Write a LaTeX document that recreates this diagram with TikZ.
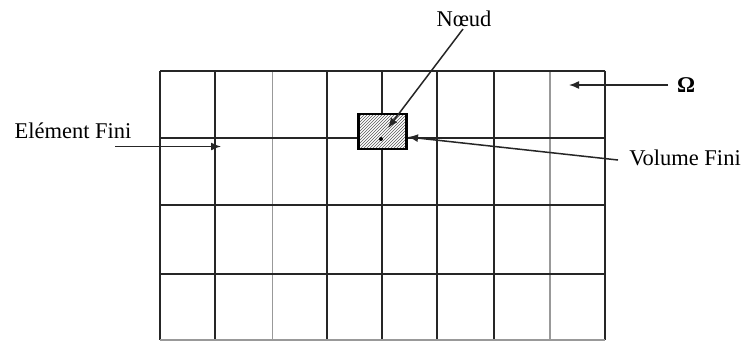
\documentclass[tikz,border=0pt]{standalone}
\usepackage{fontspec}
\setmainfont{Liberation Serif}
\usetikzlibrary{patterns,arrows.meta}
\begin{document}
\begin{tikzpicture}[x=1pt,y=-1pt,
  darkline/.style={line width=2pt,black!85},
  lightline/.style={line width=1.3pt,black!40},
  arr/.style={line width=1.5pt,black!85,-{Latex[length=10pt,width=8pt]}},
  lbl/.style={inner sep=0pt,font=\fontsize{22.5}{26}\selectfont},
  cellbox/.style={draw=black,line width=2.6pt,preaction={fill=white},pattern=north east lines,pattern color=black!65,minimum width=48pt,minimum height=35pt,inner sep=0pt}
]
\useasboundingbox (0,0) rectangle (749,341);
\fill[white] (0,0) rectangle (749,341);
% grid vertical lines
\foreach \x in {160,215,327,382,437,494,605}
  \draw[darkline] (\x,70.5) -- (\x,340);
\foreach \x in {272.5,550}
  \draw[lightline] (\x,70.5) -- (\x,340);
% grid horizontal lines
\foreach \y in {70.5,138.3,205,274}
  \draw[darkline] (160,\y) -- (605,\y);
\draw[lightline] (160,340) -- (605,340);
% finite volume cell
\node[cellbox] (vol) at (382.5,131.5) {};
\fill[black] (381,139) circle (2pt);
% labels
\node[lbl] (noeud) at (464,19) {Nœud};
\node[lbl] (elem) at (73,131) {Elément Fini};
\node[lbl] (volfini) at (685,158) {Volume Fini};
\node[lbl,font=\fontsize{22.5}{26}\selectfont\bfseries] (omega) at (686,85) {Ω};
% arrow coordinates
\coordinate (nStart) at (463,29);
\coordinate (nTip) at (388,128);
\coordinate (oStart) at (668,85);
\coordinate (oTip) at (569,85);
\coordinate (eStart) at (115,146.5);
\coordinate (eTip) at (221,146.5);
\coordinate (vStart) at (618,160);
\coordinate (vTip) at (408,137);
% arrows
\draw[arr] (nStart) -- (nTip);
\draw[arr] (oStart) -- (oTip);
\draw[arr] (eStart) -- (eTip);
\draw[arr] (vStart) -- (vTip);
\end{tikzpicture}
\end{document}
